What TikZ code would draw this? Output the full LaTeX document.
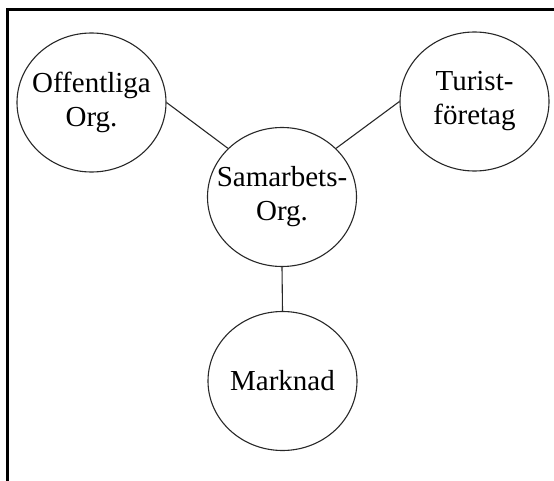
\documentclass[tikz,border=0pt]{standalone}
\usepackage{fontspec}
\setmainfont{Liberation Serif}
\usepackage{xcolor}
\definecolor{Line}{RGB}{40,40,40}
\definecolor{Black}{RGB}{0,0,0}
\usetikzlibrary{shapes.geometric}

\begin{document}
\begin{tikzpicture}[x=1pt, y=1pt,
		circ/.style={ellipse, draw=Line, line width=1.1pt, minimum width=149pt, minimum height=139pt, inner xsep=-14pt, inner ysep=0pt, align=center, font=\fontsize{29}{34}\selectfont},
		link/.style={draw=Line, line width=1.1pt}]
		
		\useasboundingbox (0,0) rectangle (554,480);
		
		% Frame
		\draw [draw=Black, line width=3pt] (7.5,-5) -- (7.5,470) -- (560,470);
		
		% Circles
		\node[circ] (off) at (91.5, 377.5) {Offentliga\\Org.};
		\node[circ] (tur) at (474.5, 378.5) {Turist-\\företag};
		\node[circ] (sam) at (282, 283) {Samarbets-\\Org.};
		\node[circ] (mar) at (282.5, 99) {Marknad};
		
		% Lines
		\draw [link] (off.east) -- (sam.138);
		\draw [link] (tur.west) -- (sam.42);
		\draw [link] (sam.south) -- (mar.north);
		
	\end{tikzpicture}
\end{document}
